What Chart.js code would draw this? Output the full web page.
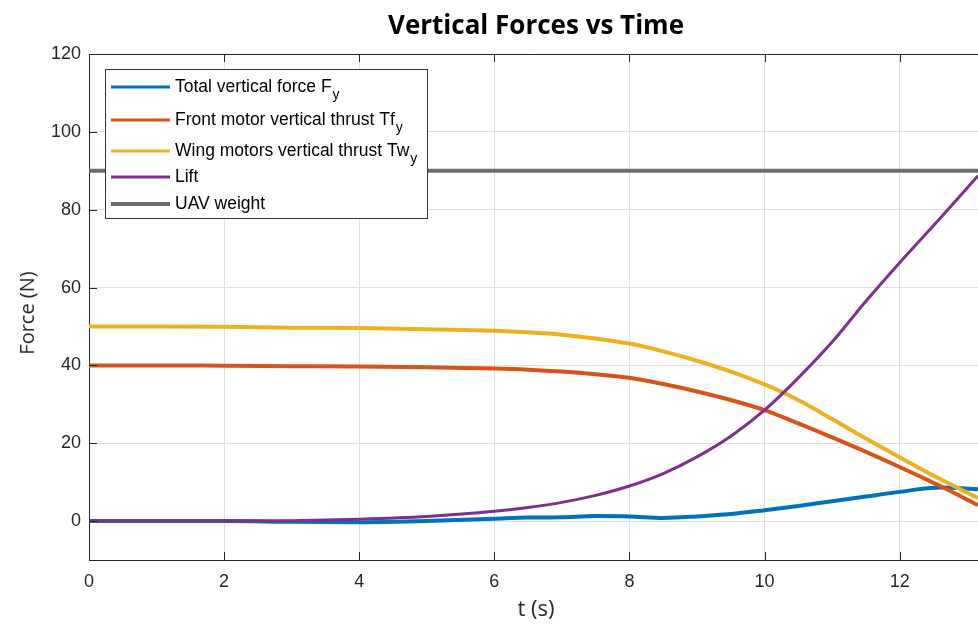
<!DOCTYPE html>
<html lang="en">
<head>
    <meta charset="utf-8">
    <title>Vertical Forces vs Time</title>
    <script src="https://cdn.jsdelivr.net/npm/chart.js@4.4.0/dist/chart.umd.min.js"></script>
    <style>
        body {
            margin: 0;
            background: white;
        }

        #wrap {
            width: 978px;
            height: 626px;
        }
    </style>
</head>
<body>
    <div id="wrap">
        <canvas id="forces" width="978" height="626"></canvas>
    </div>

    <script>
        // time samples (s)
        const timeS = [0, 1, 2, 3, 4, 5, 6, 6.5, 7, 7.5, 8, 8.5, 9, 9.5, 10, 10.5, 11, 11.5, 12, 12.6, 13.16];

        const totalFy = [0, 0, 0, -0.2, -0.3, 0, 0.6, 0.9, 1.0, 1.3, 1.2, 0.8, 1.2, 1.8, 2.8, 3.9, 5.1, 6.3, 7.5, 8.6, 8.2];
        const frontTf = [40, 40, 39.9, 39.8, 39.7, 39.5, 39.2, 38.9, 38.4, 37.7, 36.8, 35.2, 33.3, 31.1, 28.5, 25.1, 21.5, 17.8, 13.9, 9.0, 4.1];
        const wingTw = [50, 50, 49.9, 49.7, 49.6, 49.3, 48.9, 48.5, 47.9, 46.9, 45.6, 43.6, 41.2, 38.4, 35.1, 31.1, 26.2, 21.2, 16.4, 10.8, 5.9];
        const lift = [0, 0, 0, 0.1, 0.5, 1.2, 2.5, 3.5, 4.8, 6.6, 9.0, 12.2, 16.5, 21.8, 28.5, 36.8, 46.0, 56.5, 66.4, 77.8, 88.7];
        const weightT = [0, 13.16];
        const weightN = [90, 90];

        const xTicks = [0, 2, 4, 6, 8, 10, 12];
        const yTicks = [0, 20, 40, 60, 80, 100, 120];

        // legend: [main text, subscript]
        const legendText = [
            ["Total vertical force F", "y"],
            ["Front motor vertical thrust Tf", "y"],
            ["Wing motors vertical thrust Tw", "y"],
            ["Lift", ""],
            ["UAV weight", ""]
        ];
        const colors = ["#0072BD", "#D95319", "#EDB120", "#7E2F8E", "#6B6B6B"];

        const toPts = (xs, ys) => xs.map((x, i) => ({ x: x, y: ys[i] }));

        const axisInk = "#262626";

        // titles, inward ticks, top border, legend with subscripts
        const matlabLook = {
            id: "matlabLook",
            afterDraw(chart) {
                const ctx = chart.ctx;
                const area = chart.chartArea;
                const xs = chart.scales.x;
                const ys = chart.scales.y;
                ctx.save();

                // inward ticks
                ctx.strokeStyle = axisInk;
                ctx.lineWidth = 1;
                ctx.beginPath();
                xTicks.forEach(v => {
                    const px = Math.round(xs.getPixelForValue(v)) + 0.5;
                    ctx.moveTo(px, area.bottom);
                    ctx.lineTo(px, area.bottom - 8);
                    ctx.moveTo(px, area.top);
                    ctx.lineTo(px, area.top + 8);
                });
                yTicks.forEach(v => {
                    const py = Math.round(ys.getPixelForValue(v)) + 0.5;
                    ctx.moveTo(area.left, py);
                    ctx.lineTo(area.left + 8, py);
                });
                ctx.stroke();

                // top border
                ctx.beginPath();
                ctx.moveTo(area.left, Math.round(area.top) + 0.5);
                ctx.lineTo(area.right, Math.round(area.top) + 0.5);
                ctx.stroke();

                // title
                ctx.fillStyle = "#000";
                ctx.textAlign = "center";
                ctx.textBaseline = "middle";
                ctx.font = "bold 26px 'Open Sans'";
                ctx.fillText("Vertical Forces vs Time", 536, 27);

                // axis titles
                ctx.fillStyle = axisInk;
                ctx.font = "22px 'Open Sans'";
                ctx.fillText("t (s)", 536, 610);
                ctx.save();
                ctx.translate(28, 313);
                ctx.rotate(-Math.PI / 2);
                ctx.font = "20px 'Open Sans'";
                ctx.fillText("Force (N)", 0, 0);
                ctx.restore();

                // legend
                const lx = 105.5, ly = 69.5, lw = 322, lh = 149;
                ctx.fillStyle = "#fff";
                ctx.fillRect(lx, ly, lw, lh);
                ctx.strokeStyle = "#333";
                ctx.lineWidth = 1;
                ctx.strokeRect(lx, ly, lw, lh);
                const rowY = [87, 120, 151, 177, 204];
                legendText.forEach((t, i) => {
                    ctx.strokeStyle = colors[i];
                    ctx.lineWidth = i === 4 ? 4 : 3;
                    ctx.beginPath();
                    ctx.moveTo(111, rowY[i]);
                    ctx.lineTo(170, rowY[i]);
                    ctx.stroke();
                    ctx.fillStyle = "#000";
                    ctx.textAlign = "left";
                    ctx.textBaseline = "alphabetic";
                    ctx.font = "17.5px 'Liberation Sans'";
                    ctx.fillText(t[0], 175, rowY[i] + 5);
                    if (t[1]) {
                        const w = ctx.measureText(t[0]).width;
                        ctx.font = "14px 'Liberation Sans'";
                        ctx.fillText(t[1], 176 + w, rowY[i] + 12);
                    }
                });

                ctx.restore();
            }
        };

        new Chart(document.getElementById("forces"), {
            type: "line",
            data: {
                datasets: [
                    { label: legendText[0].join(""), data: toPts(timeS, totalFy), borderColor: colors[0], borderWidth: 4, order: 5 },
                    { label: legendText[1].join(""), data: toPts(timeS, frontTf), borderColor: colors[1], borderWidth: 4, order: 4 },
                    { label: legendText[2].join(""), data: toPts(timeS, wingTw), borderColor: colors[2], borderWidth: 4, order: 3 },
                    { label: legendText[3][0], data: toPts(timeS, lift), borderColor: colors[3], borderWidth: 3, order: 2 },
                    { label: legendText[4][0], data: toPts(weightT, weightN), borderColor: colors[4], borderWidth: 4, order: 1 }
                ]
            },
            options: {
                responsive: false,
                animation: false,
                layout: { padding: { top: 54, right: 0, left: 0, bottom: 0 } },
                elements: {
                    point: { radius: 0 },
                    line: { cubicInterpolationMode: "monotone", fill: false }
                },
                plugins: {
                    legend: { display: false },
                    tooltip: { enabled: false },
                    title: { display: false }
                },
                scales: {
                    x: {
                        type: "linear",
                        min: 0,
                        max: 13.16,
                        afterBuildTicks: s => { s.ticks = xTicks.map(v => ({ value: v })); },
                        afterFit: s => { s.height = 66; },
                        grid: { color: "#dfdfdf", drawTicks: false },
                        border: { display: true, color: axisInk },
                        ticks: { color: axisInk, font: { family: "Liberation Sans", size: 18 }, padding: 11, maxRotation: 0 }
                    },
                    y: {
                        type: "linear",
                        min: -10,
                        max: 120,
                        afterBuildTicks: s => { s.ticks = yTicks.map(v => ({ value: v })); },
                        afterFit: s => { s.width = 89; },
                        grid: { color: "#dfdfdf", drawTicks: false },
                        border: { display: true, color: axisInk },
                        ticks: { color: axisInk, font: { family: "Liberation Sans", size: 18 }, padding: 8 }
                    }
                }
            },
            plugins: [matlabLook]
        });
    </script>
</body>
</html>
